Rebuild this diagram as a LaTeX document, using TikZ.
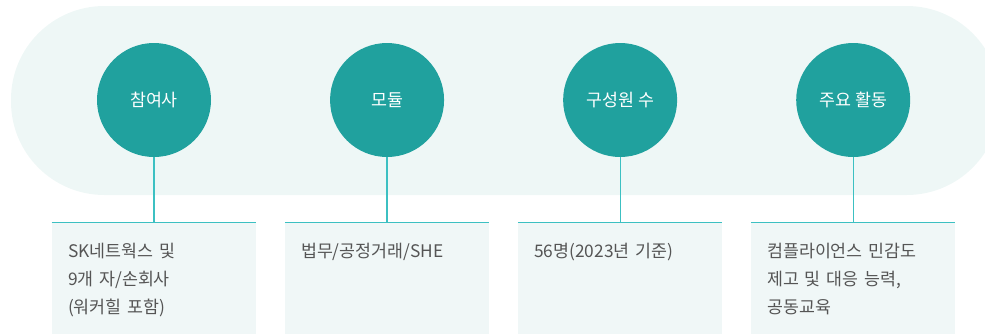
\documentclass[tikz,border=0pt]{standalone}
\usepackage{fontspec}
\setmainfont{Noto Sans CJK KR}
\usepackage{xcolor}
\usepackage{tikz}
\usetikzlibrary{positioning,calc}
\definecolor{hubteal}{HTML}{20A19E}
\definecolor{pillbg}{HTML}{EEF7F6}
\definecolor{boxbg}{HTML}{F0F7F7}
\definecolor{linecyan}{HTML}{3CC0C2}
\definecolor{textgray}{HTML}{555555}

\begin{document}
\begin{tikzpicture}[
  x=0.75pt, y=-0.75pt,
  font=\fontsize{13}{21}\selectfont,
  hub/.style={circle, fill=hubteal, text=white, minimum size=85.5pt, inner sep=0pt},
  infobox/.style={fill=boxbg, minimum width=153pt, minimum height=90pt, inner sep=0pt},
  info/.style={text=textgray, text width=140pt, align=left, inner sep=0pt, anchor=base west},
  link/.style={draw=linecyan, line width=0.9pt},
  topline/.style={draw=linecyan, line width=1pt}
]
\clip (0,0) rectangle (985,333);
\fill[pillbg, rounded corners=70pt] (11,6) rectangle (1000,195);

\node[hub] (hub1) at (154,100) {참여사};
\node[hub, right=88.9pt of hub1] (hub2) {모듈};
\node[hub, right=88.9pt of hub2] (hub3) {구성원 수};
\node[hub, right=88.9pt of hub3] (hub4) {주요 활동};

\node[infobox, below=48.75pt of hub1] (box1) {};
\node[infobox, below=48.75pt of hub2] (box2) {};
\node[infobox, below=48.75pt of hub3] (box3) {};
\node[infobox, below=48.75pt of hub4] (box4) {};

\foreach \i in {1,...,4} {
  \draw[topline] (box\i.north west) -- (box\i.north east);
  \draw[link] (hub\i) -- (box\i.north);
}

\node[info] (txt1) at ($(box1.north west)+(16,35)$) {SK네트웍스 및\\9개 자/손회사\\(워커힐 포함)};
\node[info] (txt2) at ($(box2.north west)+(16,35)$) {법무/공정거래/SHE};
\node[info] (txt3) at ($(box3.north west)+(16,35)$) {56명(2023년 기준)};
\node[info] (txt4) at ($(box4.north west)+(16,35)$) {컴플라이언스 민감도\\제고 및 대응 능력,\\공동교육};
\end{tikzpicture}
\end{document}
